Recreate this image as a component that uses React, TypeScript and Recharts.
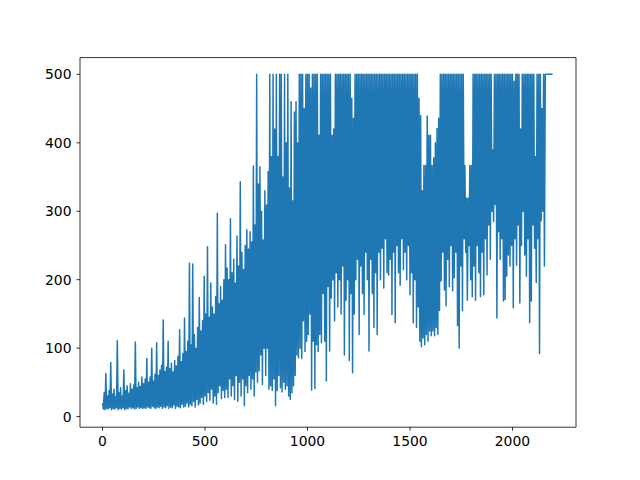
import React from "react";
import { LineChart, Line, XAxis, YAxis, ReferenceLine } from "recharts";

// Episode lengths, one value every 4 episodes.
// Each block holds 50 values = 200 episodes.
const ep0000 = [20, 11, 35, 10, 63, 12, 30, 11, 38, 13, 79, 10, 33, 12, 40, 11, 29, 13, 111, 10, 35, 12, 42, 11, 30, 13, 68, 10, 38, 12, 45, 11, 34, 14, 48, 12, 40, 13, 46, 11, 109, 12, 42, 14, 50, 12, 44, 13, 58, 12];
const ep0200 = [48, 13, 55, 12, 85, 14, 50, 13, 58, 12, 100, 15, 52, 13, 62, 12, 108, 14, 60, 13, 68, 15, 75, 12, 141, 14, 66, 13, 72, 16, 110, 12, 70, 14, 78, 13, 65, 17, 82, 12, 74, 15, 88, 14, 127, 13, 80, 18, 92, 14];
const ep0400 = [144, 15, 95, 20, 110, 14, 224, 18, 105, 16, 223, 22, 120, 14, 100, 25, 130, 17, 174, 20, 125, 28, 140, 18, 205, 30, 150, 22, 248, 35, 145, 24, 195, 40, 160, 20, 150, 30, 175, 18, 297, 35, 165, 45, 190, 26, 170, 38, 200, 28];
const ep0600 = [251, 40, 217, 28, 200, 55, 289, 30, 210, 45, 230, 25, 195, 60, 264, 22, 220, 50, 343, 30, 240, 55, 215, 16, 250, 45, 273, 35, 245, 60, 270, 40, 255, 55, 366, 30, 280, 65, 500, 50, 340, 67, 365, 90, 300, 47, 258, 100, 330, 60];
const ep0800 = [309, 100, 358, 40, 500, 45, 380, 38, 500, 55, 420, 16, 500, 38, 380, 60, 500, 42, 500, 36, 350, 50, 500, 40, 400, 45, 500, 30, 334, 25, 460, 35, 315, 45, 445, 60, 460, 90, 400, 86, 500, 100, 500, 85, 500, 140, 450, 95, 500, 110];
const ep1000 = [500, 120, 500, 150, 480, 39, 500, 110, 500, 41, 500, 105, 500, 95, 411, 120, 500, 108, 500, 180, 500, 110, 500, 52, 500, 190, 500, 96, 500, 173, 411, 200, 420, 140, 500, 210, 500, 160, 500, 200, 500, 150, 500, 220, 500, 90, 500, 170, 500, 200];
const ep1200 = [500, 82, 500, 180, 465, 64, 436, 150, 500, 200, 500, 230, 500, 120, 500, 220, 500, 180, 500, 149, 500, 240, 500, 200, 500, 96, 500, 230, 500, 180, 500, 130, 500, 210, 500, 120, 500, 240, 500, 200, 500, 246, 500, 188, 500, 260, 500, 210, 500, 207];
const ep1400 = [500, 230, 500, 149, 500, 240, 500, 137, 500, 250, 500, 210, 500, 192, 500, 260, 500, 215, 500, 240, 500, 200, 500, 250, 500, 178, 500, 210, 500, 137, 500, 200, 500, 130, 500, 160, 465, 110, 440, 102, 330, 115, 367, 105, 367, 120, 439, 110, 411, 125];
const ep1600 = [411, 118, 367, 125, 378, 118, 400, 130, 421, 120, 436, 155, 500, 198, 500, 240, 500, 185, 500, 162, 500, 230, 500, 190, 500, 250, 500, 184, 500, 203, 500, 240, 500, 133, 500, 100, 500, 220, 500, 155, 500, 260, 367, 240, 319, 170, 319, 250, 367, 200];
const ep1800 = [367, 175, 500, 220, 500, 170, 500, 250, 500, 210, 500, 175, 500, 240, 500, 178, 500, 260, 500, 207, 500, 280, 500, 230, 500, 300, 390, 285, 500, 310, 500, 144, 500, 270, 500, 230, 500, 260, 500, 169, 500, 171, 500, 205, 500, 236, 500, 220, 500, 250];
const ep2000 = [500, 159, 490, 260, 500, 221, 500, 280, 500, 166, 420, 250, 500, 300, 500, 236, 500, 205, 500, 260, 500, 137, 500, 169, 500, 280, 500, 246, 380, 196, 500, 260, 500, 92, 500, 286, 450, 300, 500, 220, 500, 500, 500, 500, 500, 500, 500, 500, 500, 500];

const blocks = [ep0000, ep0200, ep0400, ep0600, ep0800, ep1000, ep1200, ep1400, ep1600, ep1800, ep2000];
const blockStarts = [0, 200, 400, 600, 800, 1000, 1200, 1400, 1600, 1800, 2000];
const episodeStep = 4;

const xTicks = [0, 500, 1000, 1500, 2000];
const yTicks = [0, 100, 200, 300, 400, 500];

const data = blocks.flatMap((arr, b) =>
  arr.map((v, i) => ({ ep: blockStarts[b] + i * episodeStep, v }))
);

const tickStyle = { fill: "#000", fontSize: 13.9, fontFamily: "DejaVu Sans" };

export default function App() {
  return (
    <div>
      <style>{"body{margin:0;background:#fff}"}</style>
      <LineChart
        width={640}
        height={480}
        data={data}
        margin={{ top: 57.6, right: 64, bottom: 22.8, left: 0 }}
      >
        <XAxis
          type="number"
          dataKey="ep"
          domain={[-110, 2310]}
          ticks={xTicks}
          allowDataOverflow
          height={30}
          tickSize={3.5}
          tickMargin={5}
          axisLine={{ stroke: "#000", strokeWidth: 0.8 }}
          tickLine={{ stroke: "#000", strokeWidth: 0.8 }}
          tick={tickStyle}
        />
        <YAxis
          type="number"
          domain={[-15.5, 524.5]}
          ticks={yTicks}
          allowDataOverflow
          width={80}
          tickSize={3.5}
          tickMargin={5}
          axisLine={{ stroke: "#000", strokeWidth: 0.8 }}
          tickLine={{ stroke: "#000", strokeWidth: 0.8 }}
          tick={tickStyle}
        />
        <ReferenceLine y={524.5} stroke="#000" strokeWidth={0.8} />
        <ReferenceLine x={2310} stroke="#000" strokeWidth={0.8} />
        <Line
          type="linear"
          dataKey="v"
          stroke="#1f77b4"
          strokeWidth={1.5}
          strokeLinejoin="round"
          dot={false}
          isAnimationActive={false}
        />
      </LineChart>
    </div>
  );
}
